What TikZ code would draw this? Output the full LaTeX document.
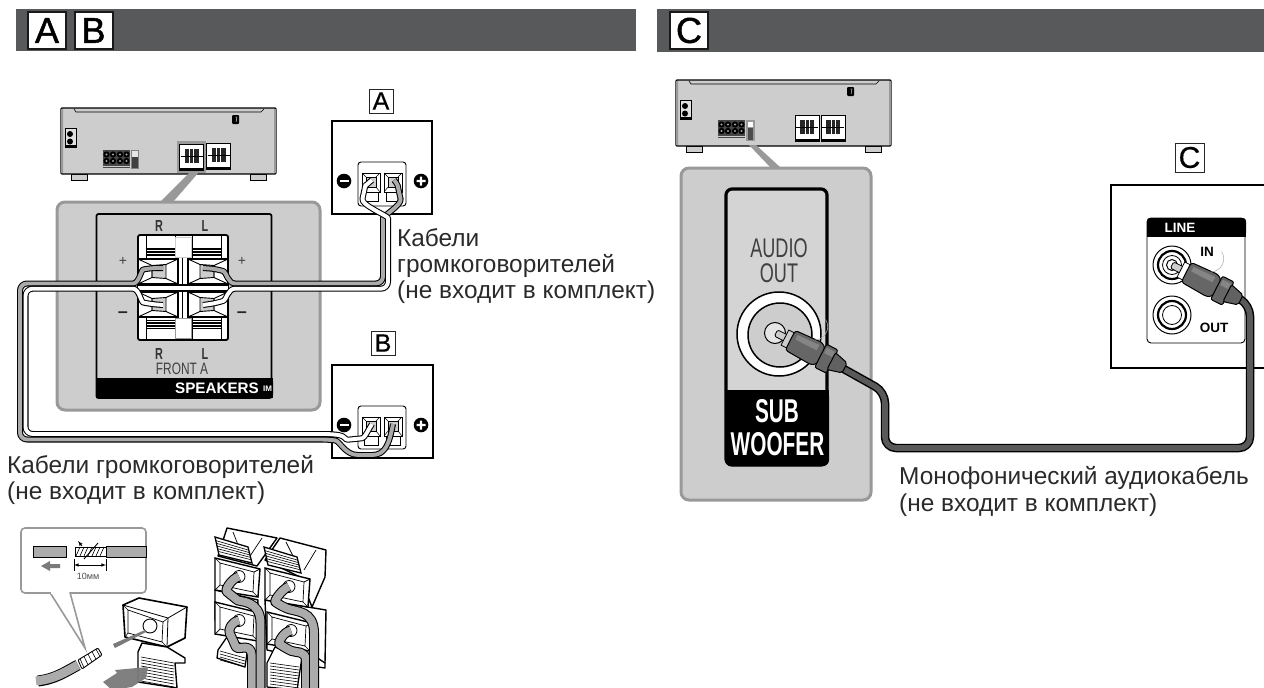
\documentclass[tikz,border=0pt]{standalone}
\usepackage{fontspec}
\setmainfont{Liberation Sans}
\newfontfamily\heavyfont[FakeBold=1.3]{Liberation Sans}
\newfontfamily\midfont[FakeBold=.6]{Liberation Sans}
\usetikzlibrary{calc}
\definecolor{bar}{HTML}{58595B}
\definecolor{pan}{HTML}{CDCDCD}
\definecolor{rim}{HTML}{999999}
\definecolor{wiregray}{HTML}{ABABAB}
\definecolor{txt}{HTML}{2A2A2A}
\definecolor{plugd}{HTML}{666666}
\tikzset{x=1pt,y=-1pt,
  lab/.style={anchor=base west,inner sep=0,text=txt,font=\fontsize{24.4}{28}\selectfont},
  letterbox/.style={draw=black!85,fill=white,line width=.9,minimum width=24,minimum height=24,inner sep=0,font=\midfont\fontsize{25}{25}\selectfont},
  hletter/.style={draw=black!90,fill=white,line width=2,minimum width=38,minimum height=37,inner sep=0,font=\heavyfont\fontsize{36}{36}\selectfont},
  panel/.style={fill=pan,draw=rim,line width=3,rounded corners=8},
  outline/.style={draw=black,line width=1.1},
  blacktext/.style={inner sep=0,text=black},
  whitetext/.style={inner sep=0,text=white,font=\bfseries}
}
\newcommand\strand[3][6]{%
  \draw[line width=#1,black,line join=round,rounded corners=7] #3;
  \draw[line width=#1-2.1,#2,line join=round,rounded corners=7] #3;}
\newcommand\smallblock[2]{%
  \begin{scope}[shift={(#1,#2)}]
    \fill[white] (0,0) rectangle (24,26);
    \draw[line width=.6] (0,0) rectangle (24,26);
    \fill[black!85] (5,5) rectangle (19,19);
    \draw[white,line width=.5] (5,12)--(19,12) (10,5)--(10,19) (14,5)--(14,19);
    \draw[line width=.5] (1,12.5)--(23,12.5);
    \fill[black] (0,23.5) rectangle (24,26.5);
  \end{scope}}
\newcommand\jacks[2]{%
  \begin{scope}[shift={(#1,#2)}]
    \fill[black!72] (0,0) rectangle (27,18);
    \foreach \i in {3.5,10,17,23.5} \foreach \j in {4.5,11}
      {\fill[black] (\i,\j) circle (3.1); \fill[white!65!black] (\i,\j) circle (1.1);}
    \fill[white!80!black] (0,15.5) rectangle (27,16.3);
  \end{scope}}
\newcommand\receiver[2]{%
  \begin{scope}[shift={(#1,#2)}]
    \draw[fill=pan,line width=.8] (10,66) rectangle (26,72);
    \draw[fill=pan,line width=.8] (189,66) rectangle (205,72);
    \draw[fill=pan,line width=1.2,rounded corners=1] (0,0) rectangle (215,66);
    \draw[line width=.6] (13,1)--(15,4)--(200,4)--(203,1);
    \fill[rim] (0,1) rectangle (2,65) (213,1) rectangle (215,65);
    \draw[fill=white!40!pan,line width=.5] (4,20) rectangle (15,39);
    \fill[black] (9,26) circle (3) (9,33.5) circle (3);
    \fill[black] (4,36.5) rectangle (15,39);
    \fill[black,rounded corners=1] (171,7) rectangle (178,16);
    \draw[white,line width=.4] (174,9)--(176,9)--(175,14);
  \end{scope}}
\newcommand\term[3]{%
  \begin{scope}[shift={(#1,#2)},xscale=#3]
    \draw[fill=white,line width=1.3] (-20,-12.5) rectangle (20,12.5);
    \draw[fill=pan,line width=.9] (-6,-6) -- (8,-7) -- (8,7) -- (-6,6) -- cycle;
    \draw[line width=.9] (-20,-12.5)--(-6,-6)--(-6,6)--(-20,12.5);
    \draw[line width=.9] (20,-12.5)--(8,-7) (8,7)--(20,12.5);
    \fill[black] (-20,11.5) rectangle (20,13.5);
  \end{scope}}
\newcommand\lever[3]{%
  \begin{scope}[shift={(#1,#2)}]
    \fill[white] (0,0) rectangle (29,#3);
    \foreach \d in {0,1.5,3,4.5,6,7.5} \draw[line width=.8] (0,11+\d) -- (29,11+\d);
  \end{scope}}
\newcommand\speakerpost[2]{%
  \begin{scope}[shift={(#1,#2)}]
    \draw[fill=white,line width=1] (0,0) rectangle (18,19);
    \draw[fill=pan,line width=.6] (4,4) rectangle (14,14);
    \draw[line width=.5] (0,0)--(4,4) (18,0)--(14,4) (0,19)--(4,14) (18,19)--(14,14);
    \draw[fill=white,line width=.8] (2,19) rectangle (16,28);
  \end{scope}}
\newcommand\posneg[2]{%
  \fill[black] (#1,#2) circle (7.3); \fill[white] (#1-4.5,#2-1.1) rectangle (#1+4.5,#2+1.1);
  \fill[black] (#1+77,#2) circle (7.3); \fill[white] (#1+72.5,#2-1.1) rectangle (#1+81.5,#2+1.1) (#1+75.9,#2-4.5) rectangle (#1+78.1,#2+4.5);}
\newcommand\plug[4]{%
  \begin{scope}[shift={(#1,#2)},rotate=#3]
    \draw[fill=pan,line width=.8,rounded corners=1.5] (0,-3.5) rectangle (13,3.5);
    \draw[fill=#4,line width=.8] (10,-8.5) rectangle (17,8.5);
    \draw[fill=plugd,line width=1,rounded corners=3] (16,-11) -- (46,-12.5) -- (51,-8) -- (51,8) -- (46,12.5) -- (16,11) -- cycle;
    \fill[black!48] (20,-8) -- (44,-9) -- (44,-3) -- (20,-3) -- cycle;
    \draw[fill=plugd,line width=1,rounded corners=2] (50,-13) rectangle (63,13);
    \fill[black!48] (52,-10) rectangle (61,-4);
    \draw[fill=black!62,line width=1,rounded corners=2] (62,-9.5) -- (77,-5.5) -- (77,5.5) -- (62,9.5) -- cycle;
    \draw[white!70!black,line width=.6] (38,-11.5) arc[start angle=60,end angle=-60,radius=13.3];
  \end{scope}}
\newcommand\isoterm[2]{%
  \begin{scope}[shift={(#1,#2)}]
    \draw[fill=white,line width=1.4] (0,0)--(45,11)--(43,39)--(0,32)--cycle;
    \draw[line width=.7] (5,5)--(39,14)--(38,34)--(5,27)--cycle;
    \draw[line width=.7] (0,0)--(5,5) (45,11)--(39,14) (43,39)--(38,34) (0,32)--(5,27);
    \draw[fill=white,line width=.8] (24,18.5) circle (6);
  \end{scope}}
\newcommand\isolever[2]{%
  \begin{scope}[shift={(#1,#2)}]
    \draw[fill=white,line width=1.3] (0,0)--(33,10)--(37,26)--(4,18)--cycle;
    \foreach \t in {.2,.35,.5,.65,.8}
      \draw[line width=.6] ($(0,0)!\t!(4,18)$)--($(33,10)!\t!(37,26)$);
  \end{scope}}
\begin{document}
\begin{tikzpicture}
\useasboundingbox (0,0) rectangle (1264,688);
\fill[white] (0,0) rectangle (1264,688);
% headers
\fill[bar] (16,9) rectangle (636,51);
\fill[bar] (657,9) rectangle (1264,52);
\node[hletter] (hA) at (47,30.5) {A};
\node[hletter] (hB) at (93.5,30.5) {B};
\node[hletter] (hC) at (689,30.5) {C};

%% LEFT receiver
\receiver{61}{108}
\fill[rim] (190,172)--(160,202)--(173,202)--(199,172)--cycle;
\jacks{103}{150}
\draw[fill=white!50!pan,draw=black!50,line width=.4] (131,150) rectangle (138,168);
\fill[black!75] (131.5,157) rectangle (137.5,168);
\fill[rim] (177,141) rectangle (206,173);
\smallblock{179.5}{144}
\smallblock{206.5}{143}

\draw[panel] (57,202) rectangle (320,410);
\draw[line width=1.8,fill=pan,rounded corners=2] (96.5,214) -- (271.5,214) -- (271.5,398) -- (96.5,398) -- cycle;
\fill[black,rounded corners=3] (96,378) rectangle (273,398);
\fill[black] (96,378) rectangle (273,385);
\fill[black] (262,378) rectangle (273,398);
\draw[fill=white,line width=1.8,rounded corners=2] (138,235) rectangle (228,340);
\lever{146}{237}{24}
\lever{192}{237}{24}
\draw[line width=.8] (146,236)--(146,261) (175,236)--(175,261) (192,236)--(192,261) (221,236)--(221,261);
\draw[fill=white,draw=pan,line width=.6] (175,237) rectangle (191,257);
\begin{scope}[yscale=-1,shift={(0,-576)}]
\lever{146}{237}{24}
\lever{192}{237}{24}
\draw[line width=.8] (146,236)--(146,261) (175,236)--(175,261) (192,236)--(192,261) (221,236)--(221,261);
\draw[fill=white,draw=rim,line width=1] (175,237.5) rectangle (191,258);
\end{scope}
\fill[black] (138,284) rectangle (228,292);
\term{158}{271.5}{1}
\term{208}{271.5}{-1}
\term{158}{304.5}{1}
\term{208}{304.5}{-1}
\fill[white] (138,286) rectangle (228,290);
\draw[line width=1.4] (182.5,258)--(182.5,284) (182.5,292)--(182.5,318);

\tikzset{rl/.style={blacktext,text=black!80,font=\bfseries\fontsize{16}{16}\selectfont,xscale=.68}}
\node[rl] (lR1) at (159,226) {R};
\node[rl] (lL1) at (205,226) {L};
\node[rl] (lR2) at (159,354) {R};
\node[rl] (lL2) at (205,354) {L};
\node[blacktext,text=black!75,font=\fontsize{16.5}{17}\selectfont,xscale=.72] (lF) at (182,369) {FRONT A};
\node[blacktext,text=black!75,font=\fontsize{14}{14}\selectfont] (lp1) at (123,261) {+};
\node[blacktext,text=black!75,font=\fontsize{14}{14}\selectfont] (lp2) at (242,261) {+};
\node[blacktext,text=black!85,font=\bfseries\fontsize{18}{18}\selectfont] (lm1) at (123,314.5) {–};
\node[blacktext,text=black!85,font=\bfseries\fontsize{18}{18}\selectfont] (lm2) at (242,314.5) {–};
\node[whitetext,font=\bfseries\fontsize{15.2}{16}\selectfont,anchor=west] (lS) at (175,388.5) {SPEAKERS};
\node[whitetext,font=\bfseries\fontsize{8}{8}\selectfont,anchor=west] (lI) at (263,389) {IM};

%% box A
\node[letterbox] (bA) at (381,101) {A};
\draw[outline,fill=white] (332,121) rectangle (432,214);
\draw[line width=.9,rounded corners=3] (358,162) rectangle (406,206);
\posneg{344}{181}
\speakerpost{362}{173}
\speakerpost{384}{173}
%% box B
\node[letterbox] (bB) at (383,343) {B};
\draw[outline,fill=white] (332,365) rectangle (433,458);
\draw[line width=.9,rounded corners=3] (358,406) rectangle (406,449);
\posneg{344}{425}
\speakerpost{362}{417}
\speakerpost{384}{417}

\coordinate (tRp) at (163,268);
\coordinate (tRm) at (163,305);
\coordinate (tLp) at (203,268);
\coordinate (tLm) at (203,305);
\coordinate (tAm) at (372,180);
\coordinate (tAp) at (394,180);
\coordinate (tBm) at (372,424);
\coordinate (tBp) at (393,424);
\strand{wiregray}{(tLp) -- (217,269) .. controls (226,272) and (228,283.5) .. (242,283.5) -- (383,283.5) -- (383,225) .. controls (383,216) and (402,205) .. (399,192) .. controls (398,187) and (397,183) .. (tAp)}
\strand{white}{(tLm) -- (217,303) .. controls (226,300) and (228,288.7) .. (242,288.7) -- (388,288.7) -- (388,225) .. controls (388,216) and (361,205) .. (364,192) .. controls (365,187) and (368,183) .. (tAm)}
\strand{wiregray}{(tRp) -- (150,268) .. controls (141,270) and (139,283.5) .. (126,283.5) -- (20,283.5) -- (20,439.5) -- (328,439.5) .. controls (340,441) and (345,455) .. (365,455) .. controls (385,455) and (389,445) .. (tBp)}
\strand{white}{(tRm) -- (150,304) .. controls (141,302) and (139,288.7) .. (126,288.7) -- (25.5,288.7) -- (25.5,434) -- (332,434) .. controls (345,436) and (345,440) .. (355,439) .. controls (365,438) and (368,430) .. (tBm)}

\node[lab] (c1a) at (397,246) {Кабели};
\node[lab] (c1b) at (397,272) {громкоговорителей};
\node[lab] (c1c) at (397,298) {(не входит в комплект)};
\node[lab] (c2a) at (7,473) {Кабели громкоговорителей};
\node[lab] (c2b) at (7,499) {(не входит в комплект)};

%% callout
\draw[rim,line width=1.6,fill=white,rounded corners=4] (21,528) rectangle (146,593);
\draw[rim,line width=1.6,fill=white] (50,592.5) -- (85,648) -- (70,592.5);
\fill[white] (50.8,590) rectangle (69.2,594);
\draw[fill=wiregray,line width=.9] (33,546) rectangle (66,557);
\draw[fill=wiregray,line width=.9] (106,546) -- (146,546) -- (146,557) -- (106,557) -- cycle;
\draw[fill=white,line width=.9] (75,547) rectangle (106,556);
\foreach \s in {76,80,...,102} \draw[line width=.6] (\s,556)--(\s+4,547);
\draw[line width=.9] (84,559) .. controls (90,552) and (92,550) .. (98,543);
\draw[-latex,line width=.7] (82,546) -- (78,541);
\fill[rim!80!black] (60,564) rectangle (50,568) -- (50,571) -- (41,566) -- (50,561) -- (50,564);
\draw[latex-latex,line width=.6] (74,565) -- (106,565);
\draw[line width=.6] (74,559)--(74,571) (106,559)--(106,571);
\node[blacktext,text=black!70,font=\fontsize{9}{9}\selectfont] (lmm) at (88,576) {10мм};
\draw[line width=11,black,line cap=butt] (38,681) .. controls (55,679) and (65,672) .. (78,665);
\draw[line width=9,wiregray,line cap=butt] (36,681) .. controls (55,679) and (65,672) .. (78,665);
\draw[fill=white,line width=.9,rounded corners=1] (78,660) -- (98,648) -- (102,655) -- (82,669) -- cycle;
\foreach \t in {.1,.3,.5,.7,.9} \draw[line width=.6] ($(78,660)!\t!(98,648)$) -- ($(82,669)!\t!(102,655)$);
% single terminal
\draw[fill=white,line width=1.6,line join=round] (123,605) -- (139,598) -- (187,607) -- (185,638) -- (167,647) -- (125,637) -- cycle;
\draw[line width=.8] (123,605)--(168,618)--(167,647) (168,618)--(187,607);
\draw[line width=.7] (128,610)--(163,622)--(162,642)--(128,633)--cycle;
\draw[line width=.6] (123,605)--(128,610) (168,618)--(163,622) (167,647)--(162,642) (125,637)--(128,633);
\draw[fill=white,line width=.9] (150,626) circle (7);
\draw[fill=white,line width=1.4,line join=round] (142,643) -- (138,652) -- (138,682) -- (177,688) -- (175,663) -- (185,663) -- (185,658) -- (167,647) -- cycle;
\foreach \d in {0,3,...,24} \draw[line width=.6] (141,657+\d) -- (174,663+\d);
\fill[rim!80!black] (113,644) -- (145,630) -- (146,632) -- (115,648) -- cycle;
\fill[rim!80!black,opacity=.95] (103,682) -- (117,673) -- (115,670) -- (148,667) -- (146,678) -- (132,687) -- (112,690) -- cycle;

% cluster of terminals
\draw[fill=white,line width=1.4,line join=round] (227,528)--(277,538)--(257,566)--(218,556)--cycle;
\draw[line width=.7] (233,532)--(240,550) (262,538)--(250,556);
\draw[fill=white,line width=1.4,line join=round] (280,538)--(326,550)--(325,577)--(312,607)--(300,577)--(265,560)--cycle;
\draw[line width=.7] (286,542)--(295,560) (316,550)--(304,570);
\draw[fill=white,line width=1.4,line join=round] (265,600)--(326,610)--(325,663)--(267,650)--cycle;
\draw[fill=white,line width=1.4,line join=round] (215,590)--(258,600)--(257,625)--(215,620)--cycle;
\isolever{215}{537}
\isolever{264}{547}
\isoterm{215}{558}
\isoterm{265}{568}
\isoterm{215}{602}
\isoterm{267}{612}
% lower levers
\draw[fill=white,line width=1.3,line join=round] (227,637)--(218,650)--(217,658)--(245,667)--(248,647)--cycle;
\draw[fill=white,line width=1.3,line join=round] (275,647)--(267,663)--(267,687)--(297,690)--(302,657)--cycle;
\draw[fill=white,line width=1.3,line join=round] (310,653)--(325,663)--(325,668)--(305,665)--cycle;
\begin{scope}
\clip (217,650) rectangle (326,688);
\foreach \d in {0,3,...,9} \draw[line width=.6] (220,651+\d)--(245,658+\d);
\foreach \d in {0,3,...,21} \draw[line width=.6] (270,663+\d)--(299,667+\d);
\end{scope}
\coordinate (w1) at (239,576.5);
\coordinate (w2) at (239,620.5);
\coordinate (w3) at (289,586.5);
\coordinate (w4) at (291,630.5);
\coordinate (e1) at (260.5,689);
\coordinate (e2) at (252,689);
\coordinate (e3) at (314,689);
\coordinate (e4) at (306,689);
\strand[10]{wiregray}{(w2) .. controls (231,622) and (228,630) .. (233,640) .. controls (238,652) and (252,640) .. (252,665) -- (e2)}
\strand[10]{wiregray}{(w1) .. controls (231,579) and (225,590) .. (232,596) .. controls (240,602) and (260.5,600) .. (260.5,630) -- (e1)}
\strand[10]{wiregray}{(w4) .. controls (283,632) and (278,643) .. (285,648) .. controls (296,653) and (306,650) .. (306,668) -- (e4)}
\strand[10]{wiregray}{(w3) .. controls (282,589) and (274,601) .. (281,606) .. controls (296,612) and (314,610) .. (314,640) -- (e3)}

%% RIGHT receiver
\receiver{676}{80}
\fill[rim] (749,145)--(771,168)--(781,168)--(756,145)--cycle;
\jacks{718}{120}
\draw[fill=rim,draw=none] (746,120) rectangle (755,141);
\fill[black!70] (748,128) rectangle (753,140);
\fill[white] (748,122) rectangle (753,127);
\smallblock{795}{115}
\smallblock{821}{115}
\draw[panel] (681,168) rectangle (871,500);
\draw[fill=pan!85!white,line width=3.2,rounded corners=6] (726,189) rectangle (827,465);
\fill[black,rounded corners=6] (725,390) rectangle (829,466);
\fill[black] (725,390) rectangle (829,400);
\node[blacktext,text=black!75,font=\fontsize{27}{27}\selectfont,xscale=.67] (lAU) at (779,248) {AUDIO};
\node[blacktext,text=black!75,font=\fontsize{27}{27}\selectfont,xscale=.67] (lOU) at (779,273.5) {OUT};
\node[whitetext,font=\bfseries\fontsize{33}{33}\selectfont,xscale=.63] (lSU) at (777,411) {SUB};
\node[whitetext,font=\bfseries\fontsize{33}{33}\selectfont,xscale=.63] (lWO) at (777.5,444) {WOOFER};
\draw[fill=white,line width=1.5] (779,334) circle (42);
\draw[fill=pan,line width=1.5] (780,335) circle (32);
\draw[fill=white!90!black,line width=1] (775,333) circle (10.5);

\node[letterbox,minimum width=29,minimum height=29,font=\midfont\fontsize{30}{30}\selectfont] (bC) at (1189.5,157.5) {C};
\draw[outline] (1264.5,185) -- (1111,185) -- (1111,368) -- (1264.5,368);
\draw[line width=.9,rounded corners=4] (1147,218) rectangle (1245,343);
\fill[black,rounded corners=3] (1147,218) rectangle (1246,236);
\fill[black] (1147,226) rectangle (1246,237);
\node[whitetext,font=\bfseries\fontsize{13.5}{14}\selectfont] (lLI) at (1180,227.5) {LINE};
\node[blacktext,font=\bfseries\fontsize{13.5}{14}\selectfont] (lIN) at (1207,252) {IN};
\node[blacktext,font=\bfseries\fontsize{13.5}{14}\selectfont] (lOT) at (1214,328) {OUT};
\foreach \yy in {265,315} {
  \draw[fill=white,line width=1] (1172,\yy) circle (19);
  \draw[fill=white,line width=2.2] (1172,\yy) circle (14);
  \draw[fill=white,line width=.8] (1172,\yy) circle (9.5);
}
\draw[line width=1] (1172,265) circle (5.5);

\coordinate (cS) at (842,368);
\coordinate (cT) at (1238,298);
\draw[line width=8.5,black,line join=round,rounded corners=11] (cS) -- (885,392) -- (885,448) -- (1250,448) -- (1250,305) -- (cT);
\draw[line width=5.6,black!65,line join=round,rounded corners=11] (cS) -- (885,392) -- (885,448) -- (1250,448) -- (1250,305) -- (cT);
\plug{776}{333}{-27}{pan}
\plug{1172}{265}{-27}{white}
\node[lab] (c3a) at (899,484) {Монофонический аудиокабель};
\node[lab] (c3b) at (899,511) {(не входит в комплект)};
\end{tikzpicture}
\end{document}
